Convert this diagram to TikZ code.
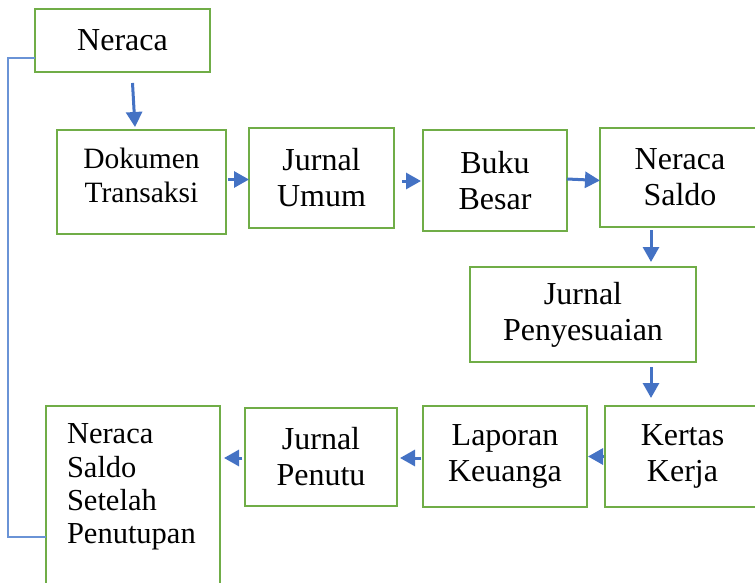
\documentclass[tikz,border=0pt]{standalone}
\usepackage{fontspec}
\setmainfont{Liberation Serif}
\usetikzlibrary{arrows.meta}
\definecolor{boxgreen}{HTML}{70AD47}
\definecolor{arrblue}{HTML}{4472C4}
\definecolor{loopblue}{HTML}{6A93D6}
\begin{document}
\begin{tikzpicture}[x=1pt,y=-1pt,
  stepbox/.style={draw=boxgreen, line width=2.8pt, rectangle, inner sep=0pt,
    outer sep=0pt, align=center, font=\fontsize{32}{36}\selectfont},
  flow/.style={draw=arrblue, line width=3pt,
    -{Triangle[length=15pt,width=16pt]}},
  loopline/.style={draw=loopblue, line width=1.3pt}]
\useasboundingbox (0,0) rectangle (755,583);

% boxes of the accounting cycle
\node[stepbox, minimum width=175pt, minimum height=63pt] (ner) at (122.5,40.5) {Neraca};
\node[stepbox, minimum width=169pt, minimum height=104pt,
      font=\fontsize{29.5}{34}\selectfont] (dok) at (141.5,182)
      {Dokumen\\Transaksi\rule[-14pt]{0pt}{0pt}};
\node[stepbox, minimum width=145pt, minimum height=100pt] (ju) at (321.5,178) {Jurnal\\Umum};
\node[stepbox, minimum width=144pt, minimum height=101pt] (bb) at (495,180.5) {Buku\\Besar};
\node[stepbox, minimum width=160pt, minimum height=99pt] (ns) at (680,177.5) {Neraca\\Saldo};
\node[stepbox, minimum width=226pt, minimum height=95pt] (jp) at (583,314.5) {Jurnal\\Penyesuaian};
\node[stepbox, minimum width=155pt, minimum height=101pt] (kk) at (682.5,456.5) {Kertas\\Kerja};
\node[stepbox, minimum width=164pt, minimum height=101pt] (lk) at (505,456.5) {Laporan\\Keuanga};
\node[stepbox, minimum width=152pt, minimum height=98pt] (jpn) at (321,457) {Jurnal\\Penutu};
\node[stepbox, anchor=north west, inner xsep=21pt, inner ysep=18pt,
      font=\fontsize{30.5}{33.3}\selectfont] (nssp) at (46,406)
      {\parbox[t][154pt][t]{132pt}{Neraca\\Saldo\\Setelah\\Penutupan}};

% flow arrows
\draw[flow] ([xshift=10pt,yshift=-11pt]ner.south) -- ([xshift=-6.5pt,yshift=3pt]dok.north);
\draw[flow] ([xshift=2pt,yshift=2.5pt]dok.east) -- ([yshift=-1.5pt]ju.west);
\draw[flow] ([xshift=8pt,yshift=-3pt]ju.east) -- ([xshift=-2pt,yshift=-0.5pt]bb.west);
\draw[flow] ([yshift=1.5pt]bb.east) -- ([yshift=-3pt]ns.west);
\draw[flow] ([xshift=-29pt,yshift=-3pt]ns.south) -- ([xshift=68pt,yshift=5pt]jp.north);
\draw[flow] ([xshift=68pt,yshift=-5pt]jp.south) -- ([xshift=-31.5pt,yshift=8pt]kk.north);
\draw[flow] ([xshift=-1pt]kk.west) -- ([xshift=1pt]lk.east);
\draw[flow] ([xshift=-2pt,yshift=-1.5pt]lk.west) -- ([xshift=3pt,yshift=-1pt]jpn.east);
\draw[flow] ([xshift=-3pt,yshift=-1pt]jpn.west) -- ([xshift=4pt,yshift=-1pt]nssp.east |- jpn.west);

% return line from the closing trial balance back to the balance sheet
\draw[loopline] ([yshift=-17.5pt]ner.west) -- ++(-27,0) |- ([yshift=-131pt]nssp.north west);
\end{tikzpicture}
\end{document}
